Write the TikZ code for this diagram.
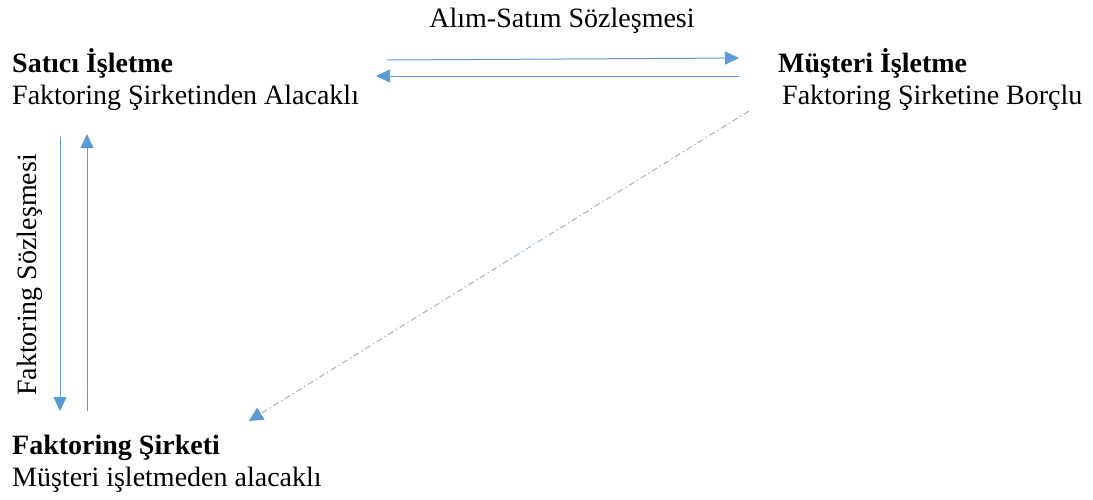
\documentclass[tikz,border=0pt]{standalone}
\usepackage{fontspec}
\setmainfont{Liberation Serif}
\usetikzlibrary{arrows.meta}
\definecolor{arrowblue}{HTML}{5B9BD5}
\definecolor{dashblue}{HTML}{9DB3C8}
\tikzset{
  lbl/.style={inner sep=0pt, anchor=base west, font=\fontsize{28}{32}\selectfont},
  lblb/.style={lbl, font=\fontsize{28}{32}\selectfont\bfseries},
  conn/.style={draw=arrowblue, line width=1pt, -{Triangle[length=14pt,width=13pt]}},
  dconn/.style={draw=dashblue, line width=1pt, dash pattern=on 6pt off 3pt on 1.5pt off 3pt, -{Triangle[length=14pt,width=14pt,fill=arrowblue,color=arrowblue]}}
}
\begin{document}
\begin{tikzpicture}[x=1pt,y=-1pt]
\useasboundingbox (0,0) rectangle (1093,499);
\node[lbl, anchor=base] (contract) at (562,27) {Alım-Satım Sözleşmesi};
\node[lblb] (seller) at (12,72) {Satıcı İşletme};
\node[lbl] (sellerdesc) at (12,104) {Faktoring Şirketinden Alacaklı};
\node[lblb] (cust) at (778,72) {Müşteri İşletme};
\node[lbl] (custdesc) at (782,104) {Faktoring Şirketine Borçlu};
\node[lblb] (fact) at (12,454) {Faktoring Şirketi};
\node[lbl] (factdesc) at (12,486) {Müşteri işletmeden alacaklı};
\node[lbl, anchor=base, rotate=90] (fcontract) at (36,275) {Faktoring Sözleşmesi};
\coordinate (a1s) at (387,60);
\coordinate (a1e) at (739,58);
\coordinate (a2s) at (739,76);
\coordinate (a2e) at (376,76);
\coordinate (v1s) at (60,137);
\coordinate (v1e) at (60,411);
\coordinate (v2s) at (87,411);
\coordinate (v2e) at (87,134);
\coordinate (ds) at (749,111);
\coordinate (de) at (249,421);
\draw[conn] (a1s) -- (a1e);
\draw[conn] (a2s) -- (a2e);
\draw[conn] (v1s) -- (v1e);
\draw[conn] (v2s) -- (v2e);
\draw[dconn] (ds) -- (de);
\end{tikzpicture}
\end{document}
